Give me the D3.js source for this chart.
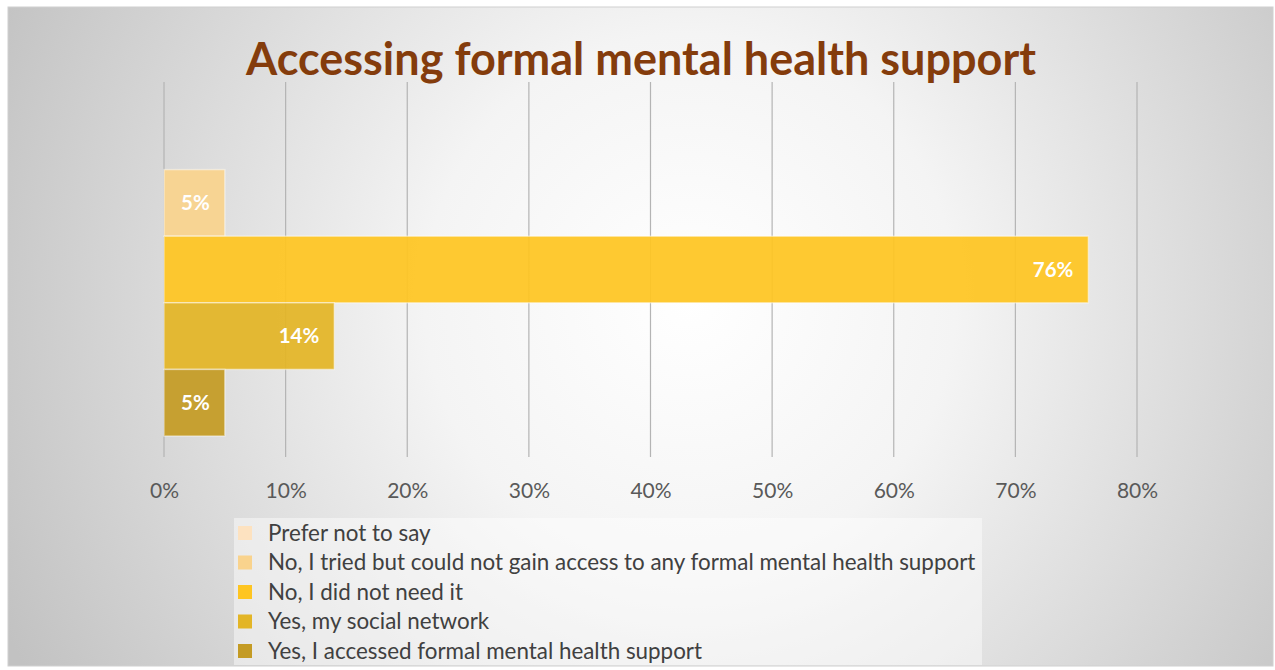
<!DOCTYPE html>
<html>
<head>
<meta charset="utf-8">
<script src="https://cdn.jsdelivr.net/npm/d3@7/dist/d3.min.js"></script>
<style>
  html, body { margin: 0; padding: 0; background: #ffffff; }
  svg { display: block; }
</style>
</head>
<body>
<svg id="chart" width="1275" height="670"></svg>
<script>
// Survey responses: did respondents access formal mental health support?
const responses = [
  "Prefer not to say",
  "No, I tried but could not gain access to any formal mental health support",
  "No, I did not need it",
  "Yes, my social network",
  "Yes, I accessed formal mental health support"
];
const shares = [0, 5, 76, 14, 5];
const colors = ["#FDE2C0", "#F9D38D", "#FEC521", "#E3B526", "#C49B24"];
const tickValues = [0, 10, 20, 30, 40, 50, 60, 70, 80];
const titleText = "Accessing formal mental health support";

const svg = d3.select("#chart");

// Chart background with soft radial shading
const defs = svg.append("defs");
const grad = defs.append("radialGradient")
  .attr("id", "bg")
  .attr("gradientUnits", "userSpaceOnUse")
  .attr("cx", 690).attr("cy", 300).attr("r", 760);
grad.append("stop").attr("offset", "0").attr("stop-color", "#ffffff");
grad.append("stop").attr("offset", "0.35").attr("stop-color", "#f4f4f4");
grad.append("stop").attr("offset", "1").attr("stop-color", "#c2c2c2");

svg.append("rect")
  .attr("x", 8).attr("y", 7).attr("width", 1265).attr("height", 659)
  .attr("fill", "url(#bg)")
  .attr("stroke", "#d0d0d0").attr("stroke-width", 1);

// Plot area
const plot = { left: 164, right: 1137, top: 82, bottom: 457 };

const x = d3.scaleLinear().domain([0, 80]).range([plot.left, plot.right]);
const y = d3.scaleBand().domain(responses)
  .range([plot.top, plot.bottom])
  .paddingOuter(0.315).paddingInner(0);

// Vertical gridlines
svg.append("g")
  .selectAll("line")
  .data(tickValues)
  .join("line")
  .attr("x1", d => x(d)).attr("x2", d => x(d))
  .attr("y1", plot.top).attr("y2", plot.bottom)
  .attr("stroke", "#b4b4b4").attr("stroke-width", 1.2);

// Axis tick labels
const xAxis = d3.axisBottom(x)
  .tickValues(tickValues)
  .tickFormat(d => d + "%")
  .tickSize(0).tickPadding(0);
const axisG = svg.append("g")
  .attr("transform", `translate(0, 498)`)
  .call(xAxis);
axisG.select(".domain").remove();
axisG.selectAll("text")
  .attr("dy", 0)
  .attr("font-family", "Lato, 'Open Sans', sans-serif")
  .attr("font-size", 21)
  .attr("fill", "#595959");

// Bars
const bars = svg.append("g")
  .selectAll("g")
  .data(responses.map((r, i) => ({ r, v: shares[i], c: colors[i] })))
  .join("g");

bars.filter(d => d.v > 0).append("rect")
  .attr("x", x(0))
  .attr("y", d => y(d.r))
  .attr("width", d => x(d.v) - x(0))
  .attr("height", y.bandwidth())
  .attr("fill", d => d.c)
  .attr("fill-opacity", 0.93)
  .attr("stroke", "rgba(255,255,255,0.45)")
  .attr("stroke-width", 1.5);

// Value labels inside bar ends
bars.filter(d => d.v > 0).append("text")
  .attr("x", d => x(d.v) - 15)
  .attr("y", d => y(d.r) + y.bandwidth() / 2 + 7)
  .attr("text-anchor", "end")
  .attr("font-family", "Lato, 'Open Sans', sans-serif")
  .attr("font-weight", 700)
  .attr("font-size", 20.5)
  .attr("fill", "#ffffff")
  .text(d => d.v + "%");

// Title
svg.append("text")
  .attr("x", 641).attr("y", 75)
  .attr("text-anchor", "middle")
  .attr("font-family", "Lato, 'Open Sans', sans-serif")
  .attr("font-weight", 700)
  .attr("font-size", 45)
  .attr("fill", "#843C0C")
  .attr("textLength", 790)
  .attr("lengthAdjust", "spacingAndGlyphs")
  .text(titleText);

// Legend
const legend = svg.append("g");
legend.append("rect")
  .attr("x", 234).attr("y", 518).attr("width", 748).attr("height", 147)
  .attr("fill", "#ffffff").attr("fill-opacity", 0.45);

const rowY = d3.scalePoint().domain(responses).range([533, 651]);
const items = legend.selectAll("g.item")
  .data(responses.map((r, i) => ({ r, c: colors[i] })))
  .join("g").attr("class", "item");

items.append("rect")
  .attr("x", 238)
  .attr("y", d => rowY(d.r) - 7)
  .attr("width", 14).attr("height", 14)
  .attr("fill", d => d.c);

items.append("text")
  .attr("x", 268)
  .attr("y", d => rowY(d.r) + 7.5)
  .attr("font-family", "Lato, 'Open Sans', sans-serif")
  .attr("font-size", 22.4)
  .attr("fill", "#404040")
  .text(d => d.r);
</script>
</body>
</html>
